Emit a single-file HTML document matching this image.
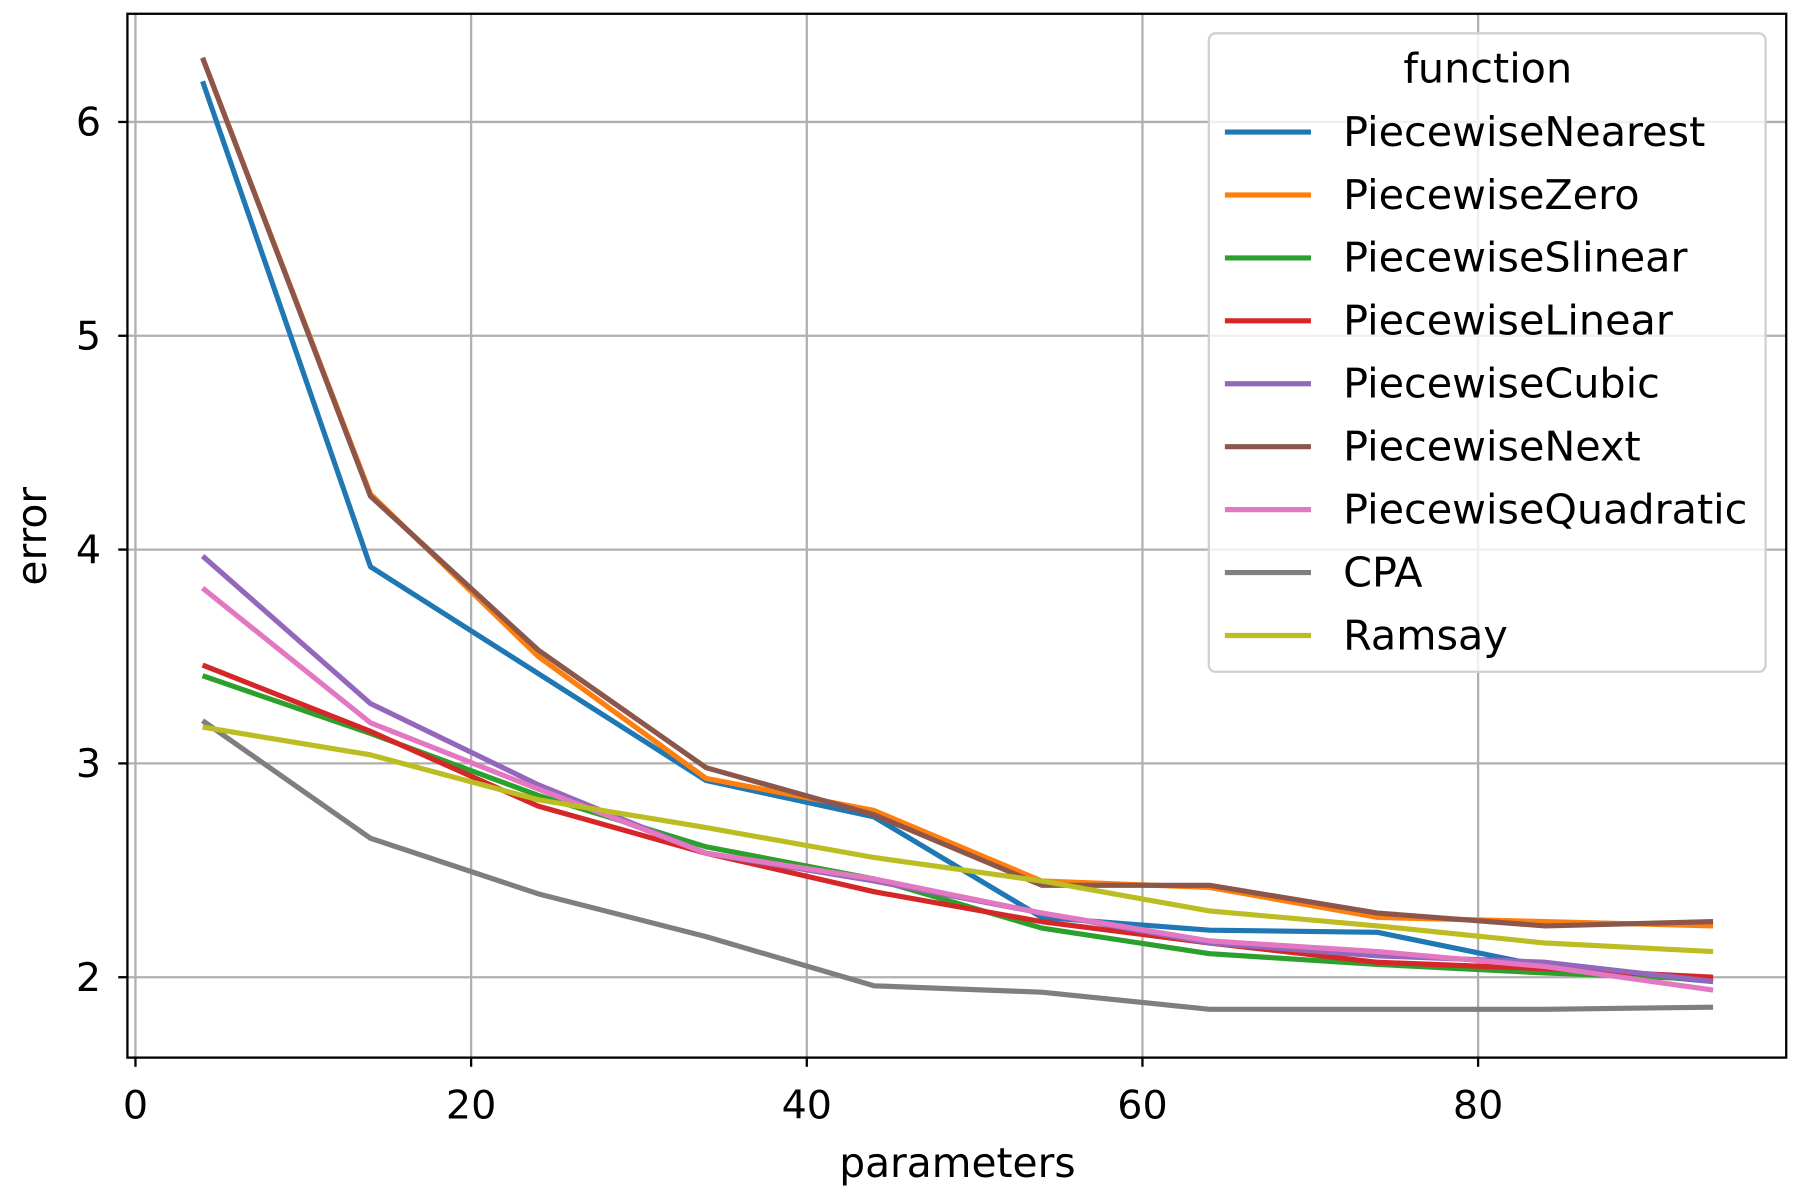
<!DOCTYPE html>
<html><head><meta charset="utf-8"><style>
html,body{margin:0;padding:0;background:#fff;}
svg{display:block;font-family:"DejaVu Sans","Liberation Sans",sans-serif;}
</style></head><body>
<svg id="chart" width="1800" height="1200" viewBox="0 0 1568 1045" preserveAspectRatio="none" xmlns="http://www.w3.org/2000/svg">
<rect x="0" y="0" width="1568" height="1045" fill="#fff"/>
<g id="grid"></g>
<g id="series"></g>
<rect x="111" y="12" width="1445" height="909" fill="none" stroke="#000" stroke-width="2"/>
<g id="ticks"></g>
<text x="834" y="1025" text-anchor="middle" font-size="35.5">parameters</text>
<text transform="translate(40,467) rotate(-90)" text-anchor="middle" font-size="35.5">error</text>
<g id="legend"></g>
</svg>
<script>
const xs = [4,14,24,34,44,54,64,74,84,94];
const names = ["PiecewiseNearest","PiecewiseZero","PiecewiseSlinear","PiecewiseLinear","PiecewiseCubic","PiecewiseNext","PiecewiseQuadratic","CPA","Ramsay"];
const colors = ["#1f77b4","#ff7f0e","#2ca02c","#d62728","#9467bd","#8c564b","#e377c2","#7f7f7f","#bcbd22"];
const nearest = [6.19,3.92,3.42,2.92,2.75,2.28,2.22,2.21,2.05,1.98];
const zero = [6.30,4.26,3.50,2.93,2.78,2.45,2.42,2.28,2.26,2.24];
const slinear = [3.41,3.14,2.85,2.61,2.46,2.23,2.11,2.06,2.02,1.99];
const linear = [3.46,3.15,2.80,2.58,2.40,2.26,2.16,2.07,2.04,2.00];
const cubic = [3.97,3.28,2.90,2.58,2.45,2.30,2.16,2.10,2.07,1.98];
const next = [6.30,4.25,3.53,2.98,2.76,2.43,2.43,2.30,2.24,2.26];
const quadratic = [3.82,3.19,2.88,2.58,2.46,2.30,2.17,2.12,2.05,1.94];
const cpa = [3.20,2.65,2.39,2.19,1.96,1.93,1.85,1.85,1.85,1.86];
const ramsay = [3.17,3.04,2.83,2.70,2.56,2.45,2.31,2.24,2.16,2.12];
const xTicks = [0,20,40,60,80];
const yTicks = [2,3,4,5,6];
const allSeries = [nearest,zero,slinear,linear,cubic,next,quadratic,cpa,ramsay];

const NS = "http://www.w3.org/2000/svg";
function X(v){ return 118 + v*14.62; }
function Y(v){ return 851 - (v-2)*186.2; }
function mk(tag, attrs, parent){ const e=document.createElementNS(NS,tag); for(const k in attrs) e.setAttribute(k,attrs[k]); parent.appendChild(e); return e; }

const grid=document.getElementById('grid'), ticks=document.getElementById('ticks');
xTicks.forEach(t=>{
  const g=mk('line',{x1:X(t),x2:X(t),y1:12,y2:921,stroke:'#b0b0b0','stroke-width':2},grid);
  
  
  const tk=mk('line',{x1:X(t),x2:X(t),y1:921,y2:929,stroke:'#000','stroke-width':2},ticks);
  
  
  const tl=mk('text',{x:X(t),y:974,'text-anchor':'middle','font-size':34.5},ticks);
  tl.textContent=t;
  
  
});
yTicks.forEach(t=>{
  const g=mk('line',{x1:111,x2:1556,y1:Y(t),y2:Y(t),stroke:'#b0b0b0','stroke-width':2},grid);
  
  
  const tk=mk('line',{x1:103,x2:111,y1:Y(t),y2:Y(t),stroke:'#000','stroke-width':2},ticks);
  
  
  const tl=mk('text',{x:88,y:Y(t)+12,'text-anchor':'end','font-size':34.5},ticks);
  tl.textContent=t;
  
  
});
const sg=document.getElementById('series');
allSeries.forEach((s,i)=>{
  const pts=s.map((v,j)=>X(xs[j])+','+Y(v)).join(' ');
  const p=mk('polyline',{points:pts,fill:'none',stroke:colors[i],'stroke-width':4.5,'stroke-linejoin':'round'},sg);
  
  
});
const lg=document.getElementById('legend');
const box=mk('rect',{x:1053,y:29,width:485,height:556,rx:6,fill:'#fff','fill-opacity':0.8,stroke:'#d0d0d0','stroke-width':2},lg);


const lt=mk('text',{x:1296,y:72,'text-anchor':'middle','font-size':36},lg);
lt.textContent='function';


names.forEach((n,i)=>{
  const y=115+i*54.8;
  const ln=mk('line',{x1:1067,x2:1142,y1:y,y2:y,stroke:colors[i],'stroke-width':4.5},lg);
  
  
  const t=mk('text',{x:1170,y:y+12,'font-size':36},lg);
  t.textContent=n;
  
  
});
</script>
</body></html>
